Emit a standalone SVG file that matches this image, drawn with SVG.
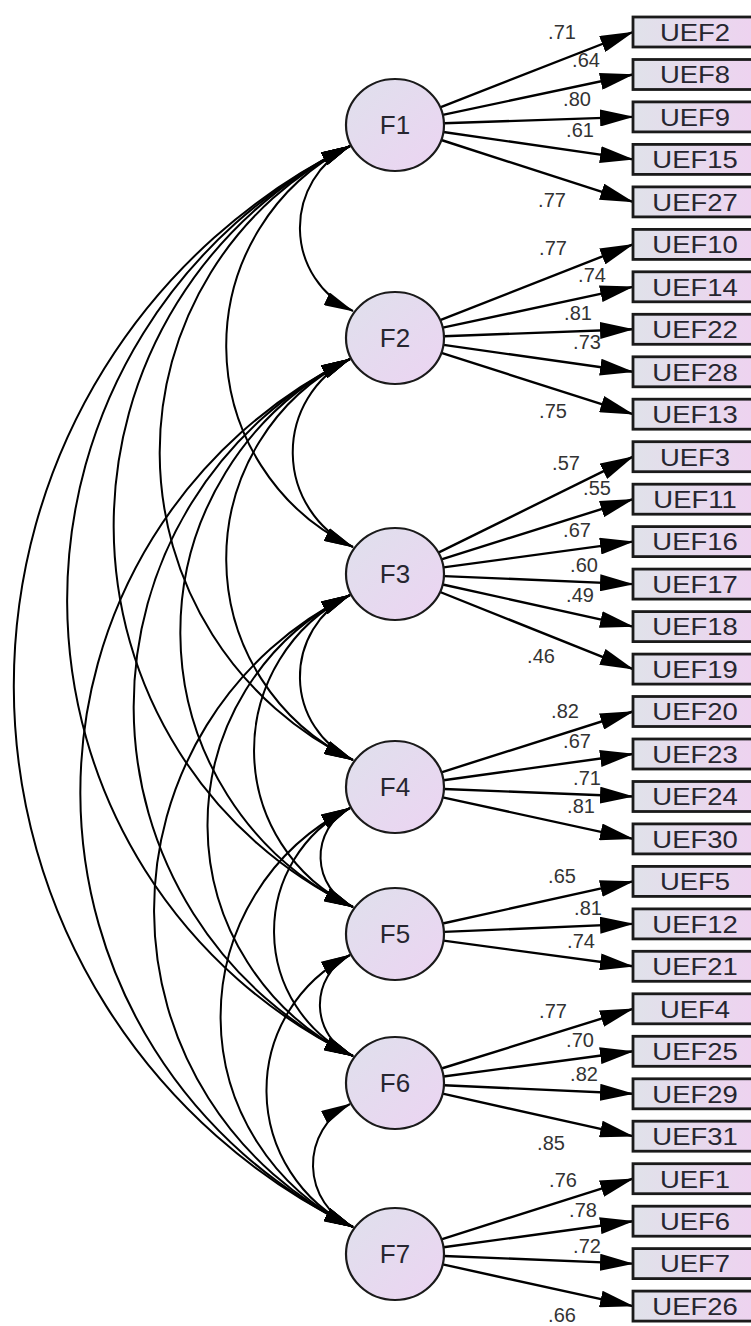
<svg xmlns="http://www.w3.org/2000/svg" width="751" height="1326" viewBox="0 0 751 1326">
<style>
.lat{stroke:#1a1a1a;stroke-width:2.2;fill:url(#gc)}
.obs{stroke:#1a1a1a;stroke-width:2.8;fill:url(#gb)}
.ft{font-family:"Liberation Sans",Arial,sans-serif;font-size:26px;fill:#262630;text-anchor:middle}
.bt{font-family:"Liberation Sans",Arial,sans-serif;font-size:24.5px;fill:#262630;text-anchor:middle}
.nt{font-family:"Liberation Sans",Arial,sans-serif;font-size:20px;fill:#333;text-anchor:middle}
.ld{stroke:#000;stroke-width:2.4;fill:none;marker-end:url(#ah)}
.cv{stroke:#000;stroke-width:2;fill:none;marker-start:url(#ahc);marker-end:url(#ahc)}
</style>
<defs>
<linearGradient id="gc" x1="0" y1="0" x2="1" y2="1">
<stop offset="0" stop-color="#dfe0ec"/><stop offset="1" stop-color="#ecd4f2"/>
</linearGradient>
<linearGradient id="gb" x1="0" y1="0" x2="1" y2="0">
<stop offset="0" stop-color="#e0e2ea"/><stop offset="1" stop-color="#eed2f0"/>
</linearGradient>
<marker id="ah" viewBox="0 0 34 17" refX="33" refY="8.5" markerWidth="34" markerHeight="17" markerUnits="userSpaceOnUse" orient="auto"><path d="M0,0 L34,8.5 L0,17 z" fill="#000"/></marker>
<marker id="ahc" viewBox="0 0 30 14" refX="29" refY="7" markerWidth="30" markerHeight="14" markerUnits="userSpaceOnUse" orient="auto-start-reverse"><path d="M0,0 L30,7 L0,14 z" fill="#000"/></marker>
</defs>
<rect width="751" height="1326" fill="#fff"/>

<g id="connectors">
<path class="ld" d="M440.2,107.3 L633,32"/>
<path class="ld" d="M442.8,114.9 L633,74.5"/>
<path class="ld" d="M444,123.3 L633,116.9"/>
<path class="ld" d="M443.4,132 L633,159.4"/>
<path class="ld" d="M441.3,140 L633,201.9"/>
<path class="ld" d="M440.2,320.2 L633,244.4"/>
<path class="ld" d="M442.8,327.7 L633,286.8"/>
<path class="ld" d="M444,336.2 L633,329.3"/>
<path class="ld" d="M443.5,344.9 L633,371.8"/>
<path class="ld" d="M441.4,352.9 L633,414.2"/>
<path class="ld" d="M438.4,552.6 L633,456.7"/>
<path class="ld" d="M441.5,559.4 L633,499.2"/>
<path class="ld" d="M443.5,567.4 L633,541.6"/>
<path class="ld" d="M444,576.1 L633,584.1"/>
<path class="ld" d="M442.7,584.5 L633,626.6"/>
<path class="ld" d="M440.1,592 L633,669.1"/>
<path class="ld" d="M441.4,772.3 L633,711.5"/>
<path class="ld" d="M443.5,780.3 L633,754"/>
<path class="ld" d="M444,789 L633,796.5"/>
<path class="ld" d="M442.7,797.4 L633,838.9"/>
<path class="ld" d="M442.7,923.5 L633,881.4"/>
<path class="ld" d="M444,931.9 L633,923.9"/>
<path class="ld" d="M443.5,940.6 L633,966.3"/>
<path class="ld" d="M441.5,1068.5 L633,1008.8"/>
<path class="ld" d="M443.5,1076.5 L633,1051.3"/>
<path class="ld" d="M443.9,1085.2 L633,1093.8"/>
<path class="ld" d="M442.7,1093.7 L633,1136.2"/>
<path class="ld" d="M441.4,1239.3 L633,1178.7"/>
<path class="ld" d="M443.5,1247.3 L633,1221.2"/>
<path class="ld" d="M444,1256 L633,1263.6"/>
<path class="ld" d="M442.7,1264.4 L633,1306.1"/>

<path class="cv" d="M350,146 A91.8,91.8 0 0 0 353,311"/>
<path class="cv" d="M350,146 A223.1,223.1 0 0 0 353,547"/>
<path class="cv" d="M350,146 A341.6,341.6 0 0 0 353,760"/>
<path class="cv" d="M350,146 A423.3,423.3 0 0 0 353,907"/>
<path class="cv" d="M350,146 A506.2,506.2 0 0 0 353,1056"/>
<path class="cv" d="M350,146 A601.4,601.4 0 0 0 353,1227"/>
<path class="cv" d="M350,359 A104.6,104.6 0 0 0 353,547"/>
<path class="cv" d="M350,359 A223.1,223.1 0 0 0 353,760"/>
<path class="cv" d="M350,359 A304.9,304.9 0 0 0 353,907"/>
<path class="cv" d="M350,359 A387.7,387.7 0 0 0 353,1056"/>
<path class="cv" d="M350,359 A482.9,482.9 0 0 0 353,1227"/>
<path class="cv" d="M350,595 A91.8,91.8 0 0 0 353,760"/>
<path class="cv" d="M350,595 A173.6,173.6 0 0 0 353,907"/>
<path class="cv" d="M350,595 A256.5,256.5 0 0 0 353,1056"/>
<path class="cv" d="M350,595 A351.6,351.6 0 0 0 353,1227"/>
<path class="cv" d="M350,808 A55.1,55.1 0 0 0 353,907"/>
<path class="cv" d="M350,808 A138,138 0 0 0 353,1056"/>
<path class="cv" d="M350,808 A233.1,233.1 0 0 0 353,1227"/>
<path class="cv" d="M350,955 A56.2,56.2 0 0 0 353,1056"/>
<path class="cv" d="M350,955 A151.3,151.3 0 0 0 353,1227"/>
<path class="cv" d="M350,1104 A68.4,68.4 0 0 0 353,1227"/>
</g>

<g id="labels">
<text class="nt" x="562" y="39">.71</text>
<text class="nt" x="586" y="67">.64</text>
<text class="nt" x="577" y="106">.80</text>
<text class="nt" x="580" y="137">.61</text>
<text class="nt" x="552" y="207">.77</text>
<text class="nt" x="553" y="255">.77</text>
<text class="nt" x="592" y="282">.74</text>
<text class="nt" x="578" y="320">.81</text>
<text class="nt" x="587" y="349">.73</text>
<text class="nt" x="553" y="418">.75</text>
<text class="nt" x="566" y="470">.57</text>
<text class="nt" x="597" y="495">.55</text>
<text class="nt" x="577" y="537">.67</text>
<text class="nt" x="584" y="572">.60</text>
<text class="nt" x="580" y="602">.49</text>
<text class="nt" x="541" y="663">.46</text>
<text class="nt" x="565" y="718">.82</text>
<text class="nt" x="577" y="748">.67</text>
<text class="nt" x="587" y="785">.71</text>
<text class="nt" x="581" y="813">.81</text>
<text class="nt" x="562" y="883">.65</text>
<text class="nt" x="588" y="915">.81</text>
<text class="nt" x="581" y="948">.74</text>
<text class="nt" x="553" y="1018">.77</text>
<text class="nt" x="580" y="1047">.70</text>
<text class="nt" x="584" y="1081">.82</text>
<text class="nt" x="551" y="1150">.85</text>
<text class="nt" x="563" y="1187">.76</text>
<text class="nt" x="583" y="1217">.78</text>
<text class="nt" x="587" y="1253">.72</text>
<text class="nt" x="562" y="1322">.66</text>
</g>

<g id="F1"><ellipse class="lat" cx="395" cy="125" rx="49" ry="46"/><text class="ft" x="395" y="134">F1</text></g>
<g id="F2"><ellipse class="lat" cx="395" cy="338" rx="49" ry="46"/><text class="ft" x="395" y="347">F2</text></g>
<g id="F3"><ellipse class="lat" cx="395" cy="574" rx="49" ry="46"/><text class="ft" x="395" y="583">F3</text></g>
<g id="F4"><ellipse class="lat" cx="395" cy="787" rx="49" ry="46"/><text class="ft" x="395" y="796">F4</text></g>
<g id="F5"><ellipse class="lat" cx="395" cy="934" rx="49" ry="46"/><text class="ft" x="395" y="943">F5</text></g>
<g id="F6"><ellipse class="lat" cx="395" cy="1083" rx="49" ry="46"/><text class="ft" x="395" y="1092">F6</text></g>
<g id="F7"><ellipse class="lat" cx="395" cy="1254" rx="49" ry="46"/><text class="ft" x="395" y="1263">F7</text></g>

<g id="UEF2"><rect class="obs" x="633" y="17" width="124" height="30"/><text class="bt" transform="translate(695 40.8) scale(1.12 1)">UEF2</text></g>
<g id="UEF8"><rect class="obs" x="633" y="59.5" width="124" height="30"/><text class="bt" transform="translate(695 83.3) scale(1.12 1)">UEF8</text></g>
<g id="UEF9"><rect class="obs" x="633" y="101.9" width="124" height="30"/><text class="bt" transform="translate(695 125.7) scale(1.12 1)">UEF9</text></g>
<g id="UEF15"><rect class="obs" x="633" y="144.4" width="124" height="30"/><text class="bt" transform="translate(695 168.2) scale(1.12 1)">UEF15</text></g>
<g id="UEF27"><rect class="obs" x="633" y="186.9" width="124" height="30"/><text class="bt" transform="translate(695 210.7) scale(1.12 1)">UEF27</text></g>
<g id="UEF10"><rect class="obs" x="633" y="229.4" width="124" height="30"/><text class="bt" transform="translate(695 253.2) scale(1.12 1)">UEF10</text></g>
<g id="UEF14"><rect class="obs" x="633" y="271.8" width="124" height="30"/><text class="bt" transform="translate(695 295.6) scale(1.12 1)">UEF14</text></g>
<g id="UEF22"><rect class="obs" x="633" y="314.3" width="124" height="30"/><text class="bt" transform="translate(695 338.1) scale(1.12 1)">UEF22</text></g>
<g id="UEF28"><rect class="obs" x="633" y="356.8" width="124" height="30"/><text class="bt" transform="translate(695 380.6) scale(1.12 1)">UEF28</text></g>
<g id="UEF13"><rect class="obs" x="633" y="399.2" width="124" height="30"/><text class="bt" transform="translate(695 423) scale(1.12 1)">UEF13</text></g>
<g id="UEF3"><rect class="obs" x="633" y="441.7" width="124" height="30"/><text class="bt" transform="translate(695 465.5) scale(1.12 1)">UEF3</text></g>
<g id="UEF11"><rect class="obs" x="633" y="484.2" width="124" height="30"/><text class="bt" transform="translate(695 508) scale(1.12 1)">UEF11</text></g>
<g id="UEF16"><rect class="obs" x="633" y="526.6" width="124" height="30"/><text class="bt" transform="translate(695 550.4) scale(1.12 1)">UEF16</text></g>
<g id="UEF17"><rect class="obs" x="633" y="569.1" width="124" height="30"/><text class="bt" transform="translate(695 592.9) scale(1.12 1)">UEF17</text></g>
<g id="UEF18"><rect class="obs" x="633" y="611.6" width="124" height="30"/><text class="bt" transform="translate(695 635.4) scale(1.12 1)">UEF18</text></g>
<g id="UEF19"><rect class="obs" x="633" y="654.1" width="124" height="30"/><text class="bt" transform="translate(695 677.9) scale(1.12 1)">UEF19</text></g>
<g id="UEF20"><rect class="obs" x="633" y="696.5" width="124" height="30"/><text class="bt" transform="translate(695 720.3) scale(1.12 1)">UEF20</text></g>
<g id="UEF23"><rect class="obs" x="633" y="739" width="124" height="30"/><text class="bt" transform="translate(695 762.8) scale(1.12 1)">UEF23</text></g>
<g id="UEF24"><rect class="obs" x="633" y="781.5" width="124" height="30"/><text class="bt" transform="translate(695 805.3) scale(1.12 1)">UEF24</text></g>
<g id="UEF30"><rect class="obs" x="633" y="823.9" width="124" height="30"/><text class="bt" transform="translate(695 847.7) scale(1.12 1)">UEF30</text></g>
<g id="UEF5"><rect class="obs" x="633" y="866.4" width="124" height="30"/><text class="bt" transform="translate(695 890.2) scale(1.12 1)">UEF5</text></g>
<g id="UEF12"><rect class="obs" x="633" y="908.9" width="124" height="30"/><text class="bt" transform="translate(695 932.7) scale(1.12 1)">UEF12</text></g>
<g id="UEF21"><rect class="obs" x="633" y="951.3" width="124" height="30"/><text class="bt" transform="translate(695 975.1) scale(1.12 1)">UEF21</text></g>
<g id="UEF4"><rect class="obs" x="633" y="993.8" width="124" height="30"/><text class="bt" transform="translate(695 1017.6) scale(1.12 1)">UEF4</text></g>
<g id="UEF25"><rect class="obs" x="633" y="1036.3" width="124" height="30"/><text class="bt" transform="translate(695 1060.1) scale(1.12 1)">UEF25</text></g>
<g id="UEF29"><rect class="obs" x="633" y="1078.8" width="124" height="30"/><text class="bt" transform="translate(695 1102.6) scale(1.12 1)">UEF29</text></g>
<g id="UEF31"><rect class="obs" x="633" y="1121.2" width="124" height="30"/><text class="bt" transform="translate(695 1145) scale(1.12 1)">UEF31</text></g>
<g id="UEF1"><rect class="obs" x="633" y="1163.7" width="124" height="30"/><text class="bt" transform="translate(695 1187.5) scale(1.12 1)">UEF1</text></g>
<g id="UEF6"><rect class="obs" x="633" y="1206.2" width="124" height="30"/><text class="bt" transform="translate(695 1230) scale(1.12 1)">UEF6</text></g>
<g id="UEF7"><rect class="obs" x="633" y="1248.6" width="124" height="30"/><text class="bt" transform="translate(695 1272.4) scale(1.12 1)">UEF7</text></g>
<g id="UEF26"><rect class="obs" x="633" y="1291.1" width="124" height="30"/><text class="bt" transform="translate(695 1314.9) scale(1.12 1)">UEF26</text></g>
</svg>
